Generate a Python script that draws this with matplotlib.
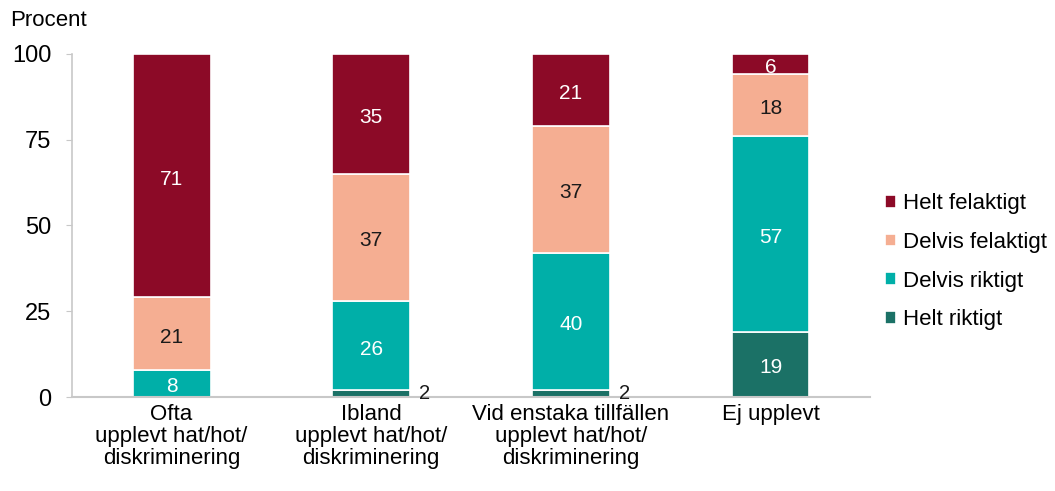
import matplotlib
matplotlib.use("Agg")
import matplotlib.pyplot as plt
import matplotlib.transforms as mtransforms
import numpy as np

plt.rcParams['font.family'] = ['Liberation Sans', 'DejaVu Sans']

categories = ["Ofta\nupplevt hat/hot/\ndiskriminering",
              "Ibland\nupplevt hat/hot/\ndiskriminering",
              "Vid enstaka tillfällen\nupplevt hat/hot/\ndiskriminering",
              "Ej upplevt"]
series_names = ["Helt riktigt", "Delvis riktigt", "Delvis felaktigt", "Helt felaktigt"]
helt_riktigt = [0, 2, 2, 19]
delvis_riktigt = [8, 26, 40, 57]
delvis_felaktigt = [21, 37, 37, 18]
helt_felaktigt = [71, 35, 21, 6]
yticks = [0, 25, 50, 75, 100]

colors = ["#1B7166", "#00AFA8", "#F5AE92", "#8C0A27"]
text_colors = ["white", "white", "#1a1a1a", "white"]
series = [helt_riktigt, delvis_riktigt, delvis_felaktigt, helt_felaktigt]

fig = plt.figure(figsize=(10.55, 4.91), dpi=100)
ax = fig.add_axes([0.068, 0.1914, 0.757, 0.699])
shift = mtransforms.offset_copy(ax.transData, fig=fig, x=0, y=-2.5, units="points")

x = np.arange(len(categories))
bottom = np.zeros(len(categories))
handles = []
for vals, col, tc, name in zip(series, colors, text_colors, series_names):
    vals = np.array(vals, dtype=float)
    bars = ax.bar(x, vals, 0.39, bottom=bottom, color=col, edgecolor="white",
                  linewidth=1.2, label=name)
    handles.append(bars)
    for xi, v, b in zip(x, vals, bottom):
        if v <= 0:
            continue
        if v < 4:
            ax.text(xi + 0.195 + 0.045, b + v / 2 + 1.0, f"{int(v)}", ha="left", va="center",
                    fontsize=14.5, color="#1a1a1a", transform=shift)
        else:
            ax.text(xi, b + v / 2, f"{int(v)}", ha="center", va="center",
                    fontsize=15, color=tc, transform=shift)
    bottom += vals

ax.set_xlim(-0.5, 3.5)
ax.set_ylim(0, 100)
ax.set_yticks(yticks)
ax.set_yticklabels([str(t) for t in yticks], fontsize=17)
ax.set_xticks(x)
ax.set_xticklabels(categories, fontsize=16, linespacing=1.05)
ax.tick_params(axis="x", length=0, pad=5)
ax.tick_params(axis="y", length=4, color="#c8c8c8", pad=10.5)
for s in ["top", "right"]:
    ax.spines[s].set_visible(False)
ax.spines["left"].set_color("#c8c8c8")
ax.spines["bottom"].set_color("#c8c8c8")
ax.spines["left"].set_linewidth(1.2)
ax.spines["bottom"].set_linewidth(1.5)

fig.text(10 / 1055, 1 - 20 / 491, "Procent", fontsize=16, ha="left", va="center")

leg = ax.legend(handles[::-1], series_names[::-1], loc="center left",
                bbox_to_anchor=(0.999, 0.394), frameon=False, fontsize=16,
                handlelength=0.5, handleheight=0.5, handletextpad=0.3,
                labelspacing=0.79, borderpad=0.2)

fig.savefig("out.png", dpi=100)
